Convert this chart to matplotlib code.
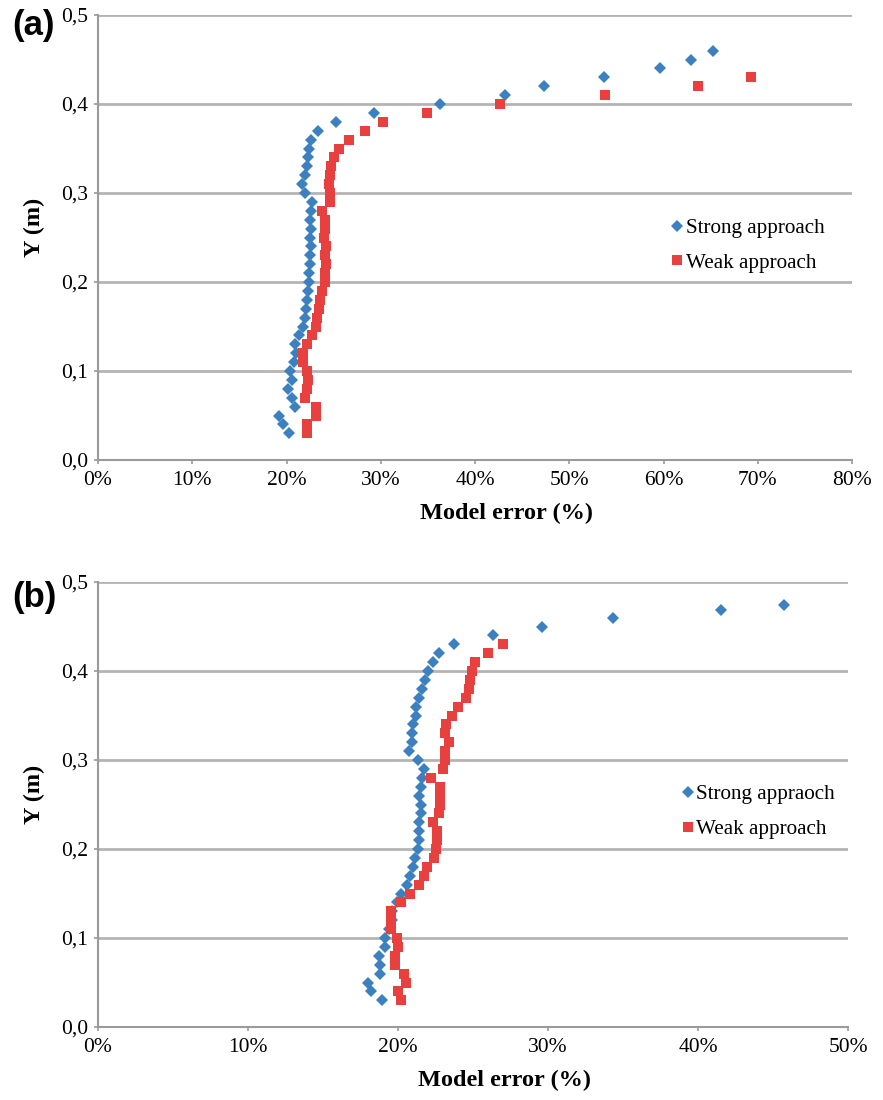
import matplotlib
matplotlib.use("Agg")
import matplotlib.pyplot as plt
from matplotlib.ticker import FuncFormatter

# ---- Panel (a) data ----
y_strong_a = [0.03, 0.04, 0.05, 0.06, 0.07, 0.08, 0.09, 0.10, 0.11, 0.12, 0.13, 0.14, 0.15,
              0.16, 0.17, 0.18, 0.19, 0.20, 0.21, 0.22, 0.23, 0.24, 0.25, 0.26, 0.27, 0.28,
              0.29, 0.30, 0.31, 0.32, 0.33, 0.34, 0.35, 0.36, 0.37, 0.38, 0.39, 0.40, 0.41,
              0.42, 0.43, 0.44, 0.45, 0.46]
x_strong_a = [20.3, 19.6, 19.2, 20.9, 20.6, 20.2, 20.6, 20.4, 20.8, 21.0, 20.9, 21.3, 21.7,
              22.0, 22.1, 22.2, 22.3, 22.4, 22.4, 22.5, 22.5, 22.6, 22.5, 22.6, 22.5, 22.6,
              22.7, 22.0, 21.6, 22.0, 22.2, 22.3, 22.4, 22.6, 23.3, 25.3, 29.3, 36.3, 43.2,
              47.3, 53.7, 59.6, 62.9, 65.3]

y_weak_a = [0.03, 0.04, 0.05, 0.06, 0.07, 0.08, 0.09, 0.10, 0.11, 0.12, 0.13, 0.14, 0.15,
            0.16, 0.17, 0.18, 0.19, 0.20, 0.21, 0.22, 0.23, 0.24, 0.25, 0.26, 0.27, 0.28,
            0.29, 0.30, 0.31, 0.32, 0.33, 0.34, 0.35, 0.36, 0.37, 0.38, 0.39, 0.40, 0.41,
            0.42, 0.43]
x_weak_a = [22.2, 22.2, 23.1, 23.1, 22.0, 22.2, 22.3, 22.2, 21.8, 21.8, 22.2, 22.7, 23.1,
            23.2, 23.4, 23.6, 23.8, 24.1, 24.1, 24.2, 24.1, 24.2, 24.0, 24.1, 24.1, 23.8,
            24.6, 24.6, 24.5, 24.6, 24.7, 25.0, 25.6, 26.6, 28.3, 30.2, 34.9, 42.6, 53.8,
            63.7, 69.3]

# ---- Panel (b) data ----
y_strong_b = [0.03, 0.04, 0.05, 0.06, 0.07, 0.08, 0.09, 0.10, 0.11, 0.12, 0.13, 0.14, 0.15,
              0.16, 0.17, 0.18, 0.19, 0.20, 0.21, 0.22, 0.23, 0.24, 0.25, 0.26, 0.27, 0.28,
              0.29, 0.30, 0.31, 0.32, 0.33, 0.34, 0.35, 0.36, 0.37, 0.38, 0.39, 0.40, 0.41,
              0.42, 0.43, 0.44, 0.45, 0.46, 0.469, 0.474]
x_strong_b = [18.9, 18.2, 18.0, 18.8, 18.8, 18.7, 19.1, 19.1, 19.4, 19.6, 19.6, 19.9, 20.2,
              20.6, 20.8, 21.0, 21.1, 21.3, 21.4, 21.4, 21.4, 21.5, 21.5, 21.4, 21.5, 21.6,
              21.7, 21.3, 20.7, 20.9, 20.9, 21.0, 21.2, 21.2, 21.4, 21.6, 21.8, 22.0, 22.3,
              22.7, 23.7, 26.3, 29.6, 34.3, 41.5, 45.7]

y_weak_b = [0.03, 0.04, 0.05, 0.06, 0.07, 0.08, 0.09, 0.10, 0.11, 0.12, 0.13, 0.14, 0.15,
            0.16, 0.17, 0.18, 0.19, 0.20, 0.21, 0.22, 0.23, 0.24, 0.25, 0.26, 0.27, 0.28,
            0.29, 0.30, 0.31, 0.32, 0.33, 0.34, 0.35, 0.36, 0.37, 0.38, 0.39, 0.40, 0.41,
            0.42, 0.43]
x_weak_b = [20.2, 20.0, 20.5, 20.4, 19.8, 19.8, 20.0, 19.9, 19.5, 19.5, 19.5, 20.2, 20.8,
            21.4, 21.7, 21.9, 22.4, 22.5, 22.6, 22.6, 22.3, 22.7, 22.8, 22.8, 22.8, 22.2,
            23.0, 23.1, 23.1, 23.4, 23.1, 23.2, 23.6, 24.0, 24.5, 24.7, 24.8, 24.9, 25.1,
            26.0, 27.0]

xticks_a = [0, 10, 20, 30, 40, 50, 60, 70, 80]
xticks_b = [0, 10, 20, 30, 40, 50]
yticks = [0.0, 0.1, 0.2, 0.3, 0.4, 0.5]

labels_a = ["Strong approach", "Weak approach"]
labels_b = ["Strong appraoch", "Weak approach"]

BLUE = "#3d80c0"
RED = "#e8403f"
GRID = "#b4b4b4"
SERIF = ["Liberation Serif", "DejaVu Serif"]
SANS = ["Liberation Sans", "DejaVu Sans"]

plt.rcParams["font.family"] = SERIF

fig = plt.figure(figsize=(8.83, 11.0), dpi=100)
W, H = 883.0, 1100.0

def make_axes(left, right, top, bottom):
    return fig.add_axes([left / W, 1 - bottom / H, (right - left) / W, (bottom - top) / H])

ax_a = make_axes(98, 852, 15, 460)
ax_b = make_axes(98, 848, 582, 1027)

def style(ax, xmax, xticks, strong_x, strong_y, weak_x, weak_y, labels, leg_anchor):
    ax.set_xlim(0, xmax)
    ax.set_ylim(0, 0.5)
    ax.set_xticks(xticks)
    ax.set_yticks(yticks)
    ax.xaxis.set_major_formatter(FuncFormatter(lambda v, p: f"{int(round(v))}%"))
    ax.yaxis.set_major_formatter(FuncFormatter(lambda v, p: f"{v:.1f}".replace(".", ",")))
    ax.grid(axis="y", color=GRID, linewidth=2.0)
    ax.set_axisbelow(True)
    for s in ["top", "right"]:
        ax.spines[s].set_visible(False)
    for s in ["left", "bottom"]:
        ax.spines[s].set_color("#9a9a9a")
        ax.spines[s].set_linewidth(1.5)
    ax.tick_params(axis="both", colors="#9a9a9a", length=3, width=1.2, labelsize=15.5,
                   labelcolor="black")
    ax.tick_params(axis="x", pad=5)
    ax.tick_params(axis="y", pad=4)
    ax.plot(strong_x, strong_y, linestyle="none", marker="D", markersize=6.3,
            color=BLUE, markeredgewidth=0, label=labels[0], clip_on=False)
    ax.plot(weak_x, weak_y, linestyle="none", marker="s", markersize=7.6,
            color=RED, markeredgewidth=0, label=labels[1], clip_on=False)
    leg = ax.legend(loc="center left", bbox_to_anchor=leg_anchor, frameon=False,
                    fontsize=15.2, handlelength=0.6, handletextpad=0.1,
                    labelspacing=0.72, borderaxespad=0, borderpad=0)
    return leg

style(ax_a, 80, xticks_a, x_strong_a, y_strong_a, x_weak_a, y_weak_a, labels_a, (0.760, 0.482))
style(ax_b, 50, xticks_b, x_strong_b, y_strong_b, x_weak_b, y_weak_b, labels_b, (0.778, 0.484))

# axis titles
for top_px, bot_px, xc in [(15, 460, 506), (582, 1027, 504)]:
    fig.text(xc / W, 1 - (bot_px + 53) / H, "Model error (%)", fontsize=17.5,
             fontweight="bold", ha="center", va="center")
    fig.text(34 / W, 1 - ((top_px + bot_px) / 2 - 10) / H, "Y (m)", fontsize=17.5,
             fontweight="bold", ha="center", va="center", rotation=90)

fig.text(12 / W, 1 - 26 / H, "(a)", fontsize=25, fontweight="bold",
         family=SANS, va="center", ha="left")
fig.text(12 / W, 1 - 598 / H, "(b)", fontsize=25, fontweight="bold",
         family=SANS, va="center", ha="left")

fig.savefig("out.png", dpi=100, facecolor="white")
